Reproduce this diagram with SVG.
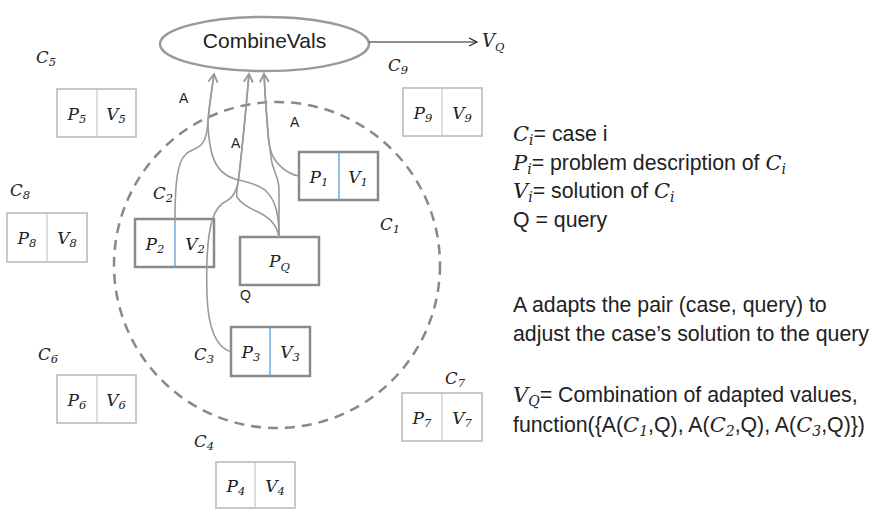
<svg xmlns="http://www.w3.org/2000/svg" width="887" height="510" viewBox="0 0 887 510">
<style>
.lb{fill:#fff;stroke:#c8c8c8;stroke-width:2}
.db{fill:#fff;stroke:#8a8a8a;stroke-width:2.5}
.dl{stroke:#c8c8c8;stroke-width:1.2}
.dbl{stroke:#5b9bd5;stroke-width:1.3}
.m{font-family:"DejaVu Serif",serif;font-style:italic;font-size:17px;fill:#222}
.ml{font-family:"DejaVu Serif",serif;font-style:italic;font-size:16.5px;fill:#222}
.s{font-size:11.5px}
.t{font-family:"Liberation Sans",sans-serif;font-size:21.3px;fill:#222}
.tm{font-family:"DejaVu Serif",serif;font-style:italic;font-size:21px}
.ts{font-family:"DejaVu Serif",serif;font-style:italic;font-size:14px}
.a{font-family:"Liberation Sans",sans-serif;font-size:14px;fill:#222}
.c{fill:none;stroke:#9a9a9a;stroke-width:1.6}
</style>
<defs>
<marker id="ah" markerUnits="userSpaceOnUse" markerWidth="14" markerHeight="14" refX="9" refY="5" orient="auto" viewBox="0 0 14 10">
<path d="M1,0.5 L9,5 L1,9.5" fill="none" stroke="#9a9a9a" stroke-width="1.6"/>
</marker>
<marker id="ahk" markerUnits="userSpaceOnUse" markerWidth="14" markerHeight="14" refX="9" refY="5" orient="auto" viewBox="0 0 14 10">
<path d="M1,1 L9,5 L1,9" fill="none" stroke="#222" stroke-width="1.2"/>
</marker>
</defs>
<rect width="887" height="510" fill="#fff"/>

<circle id="neighborhood" cx="277" cy="265" r="163" fill="none" stroke="#888" stroke-width="2.5" stroke-dasharray="10 7"/>

<g id="combine">
<ellipse cx="264.5" cy="44" rx="104.5" ry="27" fill="#fff" stroke="#9a9a9a" stroke-width="2.5"/>
<text class="t" x="264.5" y="48" text-anchor="middle" style="font-size:21px">CombineVals</text>
</g>

<text id="vq-out" class="m" x="482" y="47" style="font-size:18px">V<tspan class="s" dy="4">Q</tspan></text>

<g id="c5">
<text class="ml" x="36" y="63">C<tspan class="s" dy="3">5</tspan></text>
<rect class="lb" x="57" y="89" width="79" height="48"/><line class="dl" x1="97" y1="89" x2="97" y2="137"/>
<text class="m" x="77" y="120" text-anchor="middle">P<tspan class="s" dy="3">5</tspan></text>
<text class="m" x="116" y="120" text-anchor="middle">V<tspan class="s" dy="3">5</tspan></text>
</g>

<g id="c9">
<text class="ml" x="388" y="71">C<tspan class="s" dy="3">9</tspan></text>
<rect class="lb" x="403" y="88" width="79" height="48"/><line class="dl" x1="442" y1="88" x2="442" y2="136"/>
<text class="m" x="423" y="119" text-anchor="middle">P<tspan class="s" dy="3">9</tspan></text>
<text class="m" x="462" y="119" text-anchor="middle">V<tspan class="s" dy="3">9</tspan></text>
</g>

<g id="c8">
<text class="ml" x="10" y="196">C<tspan class="s" dy="3">8</tspan></text>
<rect class="lb" x="7" y="213" width="80" height="49"/><line class="dl" x1="47" y1="213" x2="47" y2="262"/>
<text class="m" x="27" y="244" text-anchor="middle">P<tspan class="s" dy="3">8</tspan></text>
<text class="m" x="67" y="244" text-anchor="middle">V<tspan class="s" dy="3">8</tspan></text>
</g>

<g id="c2">
<text class="ml" x="153" y="199">C<tspan class="s" dy="3">2</tspan></text>
<rect class="db" x="135" y="219" width="79" height="48"/><line class="dbl" x1="175" y1="219" x2="175" y2="267"/>
<text class="m" x="155" y="250" text-anchor="middle">P<tspan class="s" dy="3">2</tspan></text>
<text class="m" x="195" y="250" text-anchor="middle">V<tspan class="s" dy="3">2</tspan></text>
</g>

<g id="c1">
<text class="ml" x="380" y="230">C<tspan class="s" dy="3">1</tspan></text>
<rect class="db" x="299" y="152" width="79" height="48"/><line class="dbl" x1="339" y1="152" x2="339" y2="200"/>
<text class="m" x="319" y="183" text-anchor="middle">P<tspan class="s" dy="3">1</tspan></text>
<text class="m" x="358" y="183" text-anchor="middle">V<tspan class="s" dy="3">1</tspan></text>
</g>

<g id="query">
<rect class="db" x="240" y="237" width="79" height="48"/>
<text class="m" x="279.5" y="267" text-anchor="middle">P<tspan class="s" dy="4">Q</tspan></text>
<text class="a" x="240" y="300">Q</text>
</g>

<g id="c3">
<text class="ml" x="194" y="360">C<tspan class="s" dy="3">3</tspan></text>
<rect class="db" x="231" y="327" width="79" height="49"/><line class="dbl" x1="270" y1="327" x2="270" y2="376"/>
<text class="m" x="251" y="358" text-anchor="middle">P<tspan class="s" dy="3">3</tspan></text>
<text class="m" x="290" y="358" text-anchor="middle">V<tspan class="s" dy="3">3</tspan></text>
</g>

<g id="c6">
<text class="ml" x="38" y="360">C<tspan class="s" dy="3">6</tspan></text>
<rect class="lb" x="57" y="375" width="79" height="48"/><line class="dl" x1="97" y1="375" x2="97" y2="423"/>
<text class="m" x="77" y="406" text-anchor="middle">P<tspan class="s" dy="3">6</tspan></text>
<text class="m" x="116" y="406" text-anchor="middle">V<tspan class="s" dy="3">6</tspan></text>
</g>

<g id="c7">
<text class="ml" x="445" y="384">C<tspan class="s" dy="3">7</tspan></text>
<rect class="lb" x="402" y="393" width="80" height="48"/><line class="dl" x1="442" y1="393" x2="442" y2="441"/>
<text class="m" x="422" y="424" text-anchor="middle">P<tspan class="s" dy="3">7</tspan></text>
<text class="m" x="462" y="424" text-anchor="middle">V<tspan class="s" dy="3">7</tspan></text>
</g>

<g id="c4">
<text class="ml" x="194" y="447">C<tspan class="s" dy="3">4</tspan></text>
<rect class="lb" x="216" y="462" width="79" height="46"/><line class="dl" x1="255" y1="462" x2="255" y2="508"/>
<text class="m" x="236" y="492" text-anchor="middle">P<tspan class="s" dy="3">4</tspan></text>
<text class="m" x="275" y="492" text-anchor="middle">V<tspan class="s" dy="3">4</tspan></text>
</g>

<g id="connectors">
<path class="c" d="M175,219 C175,185 177,162 186,154 C190,150 197,149 201,145 C206,140 207,132 208,122 C209,105 212,90 214,74" marker-end="url(#ah)"/>
<path class="c" d="M279,237 C279,215 276,200 265,190 C256,183 245,182 235,179 C222,175 214,165 211,150 C209,140 208,130 208,122 C209,105 212,90 214,74" marker-end="url(#ah)"/>
<path class="c" d="M231,352 C215,347 208,325 207,295 C206,262 208,232 213,218 C216,208 222,203 228,200 C233,197 236,192 238,183 C241,160 245,120 249,74" marker-end="url(#ah)"/>
<path class="c" d="M279,237 C277,225 270,218 260,213 C250,208 241,204 237,197 C236,193 237,189 238,183 C241,160 245,120 249,74" marker-end="url(#ah)"/>
<path class="c" d="M279,237 L279,190 C279,178 274,172 272,163 C270,152 269,142 268,133 C266,110 265,95 264,74" marker-end="url(#ah)"/>
<path class="c" d="M299,176 C287,174 273,163 270,148 C269,142 268,138 268,133 C266,110 265,95 264,74" marker-end="url(#ah)"/>
<line x1="369" y1="42" x2="477" y2="42" stroke="#222" stroke-width="1.2" marker-end="url(#ahk)"/>
<text class="a" x="179" y="103">A</text>
<text class="a" x="231" y="148">A</text>
<text class="a" x="290" y="127">A</text>
</g>

<g id="legend">
<text class="t" x="513" y="141"><tspan class="tm">C</tspan><tspan class="ts" dy="4">i</tspan><tspan dy="-4">= case i</tspan></text>
<text class="t" x="513" y="169.5"><tspan class="tm">P</tspan><tspan class="ts" dy="4">i</tspan><tspan dy="-4">= problem description of </tspan><tspan class="tm">C</tspan><tspan class="ts" dy="4">i</tspan></text>
<text class="t" x="513" y="198"><tspan class="tm">V</tspan><tspan class="ts" dy="4">i</tspan><tspan dy="-4">= solution of </tspan><tspan class="tm">C</tspan><tspan class="ts" dy="4">i</tspan></text>
<text class="t" x="513" y="226.5">Q = query</text>
<text class="t" x="513" y="312">A adapts the pair (case, query) to</text>
<text class="t" x="513" y="341">adjust the case’s solution to the query</text>
<text class="t" x="513" y="402"><tspan class="tm">V</tspan><tspan class="ts" dy="4">Q</tspan><tspan dy="-4">= Combination of adapted values,</tspan></text>
<text class="t" x="513" y="432">function({A(<tspan class="tm">C</tspan><tspan class="ts" dy="4">1</tspan><tspan dy="-4">,Q), A(</tspan><tspan class="tm">C</tspan><tspan class="ts" dy="4">2</tspan><tspan dy="-4">,Q), A(</tspan><tspan class="tm">C</tspan><tspan class="ts" dy="4">3</tspan><tspan dy="-4">,Q)})</tspan></text>
</g>
</svg>
